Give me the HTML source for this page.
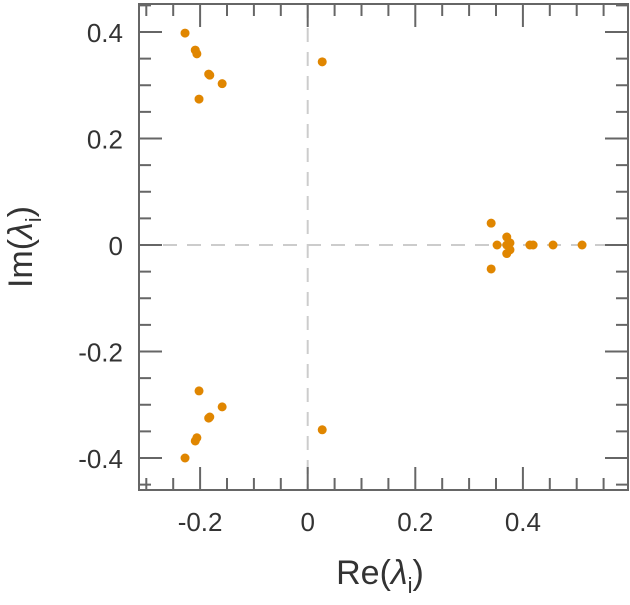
<!DOCTYPE html>
<html><head><meta charset="utf-8"><style>
body{margin:0;background:#fff;}
svg text{font-family:"Liberation Sans",sans-serif;fill:#333;}
</style></head><body>
<svg id="chart" width="630" height="600">
<g id="grid"></g>
<g id="ticks"></g>
<g id="pts"></g>
<rect x="139" y="4" width="489" height="486" fill="none" stroke="#666" stroke-width="2"/>
<text x="380" y="584" font-size="34" text-anchor="middle">Re(<tspan font-style="italic">λ</tspan><tspan font-size="22" dy="9">i</tspan><tspan dy="-9">)</tspan></text>
<text transform="translate(32,247) rotate(-90)" font-size="34" text-anchor="middle">Im(<tspan font-style="italic">λ</tspan><tspan font-size="22" dy="9">i</tspan><tspan dy="-9">)</tspan></text>
</svg>
<script>
const reVals=[-0.228,-0.209,-0.206,-0.184,-0.182,-0.159,-0.202,0.027,-0.228,-0.209,-0.206,-0.184,-0.182,-0.159,-0.202,0.027,0.341,0.341,0.352,0.370,0.370,0.376,0.376,0.370,0.413,0.419,0.456,0.510];
const imVals=[0.398,0.366,0.359,0.321,0.319,0.303,0.274,0.344,-0.400,-0.368,-0.362,-0.325,-0.323,-0.304,-0.274,-0.347,0.041,-0.045,0,0.015,-0.016,0.004,-0.009,0,0,0,0,0];
const xTicks=[-0.2,0,0.2,0.4];
const xTickLabels=["-0.2","0","0.2","0.4"];
const yTicks=[-0.4,-0.2,0,0.2,0.4];
const yTickLabels=["-0.4","-0.2","0","0.2","0.4"];
const NS="http://www.w3.org/2000/svg";
const L=139,R=628,T=4,B=490;
const X=v=>307.7+v*538;
const Y=v=>245-v*532.5;
function mk(tag,at,parent){const e=document.createElementNS(NS,tag);for(const k in at)e.setAttribute(k,at[k]);parent.appendChild(e);return e;}
const g=document.getElementById('grid'),tk=document.getElementById('ticks'),pg=document.getElementById('pts');
let l=mk('line',{x1:X(0),x2:X(0),y1:T,y2:B,stroke:'#ccc','stroke-width':2,'stroke-dasharray':'14,10'},g);


l=mk('line',{x1:L,x2:R,y1:Y(0),y2:Y(0),stroke:'#ccc','stroke-width':2,'stroke-dasharray':'14,10'},g);


for(let i=-6;i<=12;i++){const v=i*0.05,x=X(v);if(x<L||x>R)continue;const major=(i%4===0);const len=major?23:12;
 mk('line',{x1:x,x2:x,y1:B,y2:B-len,stroke:'#666','stroke-width':2},tk);
 mk('line',{x1:x,x2:x,y1:T,y2:T+len,stroke:'#666','stroke-width':2},tk);}
for(let i=-9;i<=9;i++){const v=i*0.05,y=Y(v);if(y<T||y>B)continue;const major=(i%4===0);const len=major?23:12;
 mk('line',{x1:L,x2:L+len,y1:y,y2:y,stroke:'#666','stroke-width':2},tk);
 mk('line',{x1:R,x2:R-len,y1:y,y2:y,stroke:'#666','stroke-width':2},tk);}
xTicks.forEach((v,i)=>{const t=mk('text',{x:X(v),y:531,'font-size':26,'text-anchor':'middle'},tk);t.textContent=xTickLabels[i];
 
 });
yTicks.forEach((v,i)=>{const t=mk('text',{x:123,y:Y(v)+10,'font-size':26,'text-anchor':'end'},tk);t.textContent=yTickLabels[i];
 
 });
reVals.forEach((v,i)=>{const c=mk('circle',{cx:X(v),cy:Y(imVals[i]),r:4.5,fill:'#e08600'},pg);
 
 });
</script>
</body></html>
